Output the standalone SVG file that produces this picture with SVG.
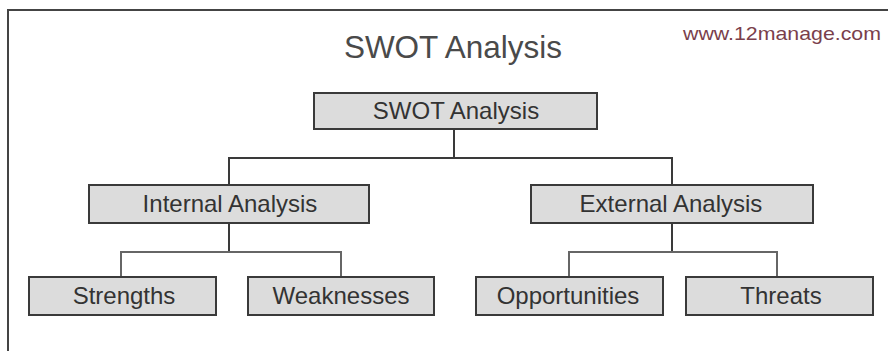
<svg xmlns="http://www.w3.org/2000/svg" width="888" height="351" viewBox="0 0 888 351">
<style>
.box{fill:#dcdcdc;stroke:#3a3a3a;stroke-width:2}
.lbl{font-family:"Liberation Sans",Arial,sans-serif;font-size:24px;fill:#333;text-anchor:middle}
.c1{fill:none;stroke:#3a3a3a;stroke-width:2}
.c2{fill:none;stroke:#666;stroke-width:2}
</style>
<rect x="0" y="0" width="888" height="351" fill="#fff"/>
<path d="M8,351 V10 H888" fill="none" stroke="#444" stroke-width="2"/>
<text x="453" y="58" font-family="'Liberation Sans',Arial,sans-serif" font-size="31.5" fill="#4a4a4a" text-anchor="middle">SWOT Analysis</text>
<text x="683" y="40" font-family="'Liberation Sans',Arial,sans-serif" font-size="19" fill="#7a3f4c" textLength="198" lengthAdjust="spacingAndGlyphs">www.12manage.com</text>
<g id="connectors">
<path class="c1" d="M454,129 V158"/>
<path class="c1" d="M229,185 V158 H672 V185"/>
<path class="c1" d="M229,223 V252"/>
<path class="c2" d="M121,277 V252 H341 V277"/>
<path class="c1" d="M672,223 V252"/>
<path class="c2" d="M569,277 V252 H777 V277"/>
</g>
<g id="swot">
<rect class="box" x="314" y="93" width="283" height="36"/>
<text class="lbl" x="456" y="119">SWOT Analysis</text>
</g>
<g id="internal">
<rect class="box" x="89" y="185" width="280" height="38"/>
<text class="lbl" x="230" y="212">Internal Analysis</text>
</g>
<g id="external">
<rect class="box" x="531" y="185" width="282" height="38"/>
<text class="lbl" x="671" y="212">External Analysis</text>
</g>
<g id="strengths">
<rect class="box" x="29" y="277" width="187" height="38"/>
<text class="lbl" x="124" y="304">Strengths</text>
</g>
<g id="weaknesses">
<rect class="box" x="248" y="277" width="186" height="38"/>
<text class="lbl" x="341" y="304">Weaknesses</text>
</g>
<g id="opportunities">
<rect class="box" x="476" y="277" width="187" height="38"/>
<text class="lbl" x="568" y="304">Opportunities</text>
</g>
<g id="threats">
<rect class="box" x="686" y="277" width="187" height="38"/>
<text class="lbl" x="781" y="304">Threats</text>
</g>
</svg>
